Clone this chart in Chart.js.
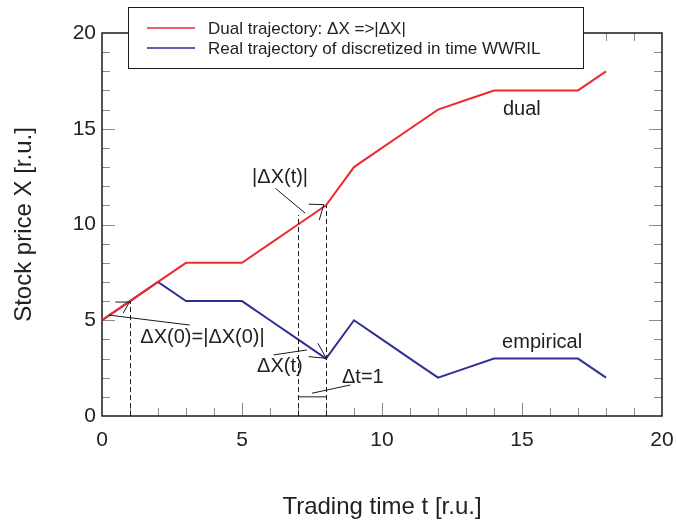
<!DOCTYPE html>
<html>
<head>
<meta charset="utf-8">
<script src="https://cdn.jsdelivr.net/npm/chart.js@4"></script>
<style>
  html, body { margin: 0; padding: 0; background: #fff; }
  #wrap { width: 676px; height: 523px; }
</style>
</head>
<body>
<div id="wrap"><canvas id="chart"></canvas></div>
<script>
// Trajectory samples, one per trading step
const tradingTime    = [0, 1, 2, 3, 4, 5, 6, 7, 8, 9, 10, 11, 12, 13, 14, 15, 16, 17, 18];
const dualPrice      = [5, 6, 7, 8, 8, 8, 9, 10, 11, 13, 14, 15, 16, 16.5, 17, 17, 17, 17, 18];
const empiricalPrice = [5, 6, 7, 6, 6, 6, 5, 4, 3, 5, 4, 3, 2, 2.5, 3, 3, 3, 3, 2];

const seriesLabels = ['Dual trajectory: \u0394X =>|\u0394X|', 'Real trajectory of discretized in time WWRIL'];
const seriesColors = ['#ee2a2e', '#2e3192'];

const xTickValues = [0, 5, 10, 15, 20];
const yTickValues = [0, 5, 10, 15, 20];

// Text notes placed in data units: [text, t, X]
const notes = [
  ['dual', 14.32, 15.72],
  ['empirical', 14.29, 3.54],
  ['|\u0394X(t)|', 5.36, 12.17],
  ['\u0394X(0)=|\u0394X(0)|', 1.37, 3.81],
  ['\u0394X(t)', 5.54, 2.30],
  ['\u0394t=1', 8.57, 1.72]
];

// Dashed guides: [t, fromX, toX]
const guides = [
  [1, 0, 6],
  [7, 0, 10.5],
  [8, 0, 11]
];

// Thin leader strokes and arrow heads, as polylines in data units
const leaders = [
  [[0.24, 5.27], [3.13, 4.75]],
  [[6.19, 11.89], [7.26, 10.59]],
  [[6.13, 3.19], [7.32, 3.45]],
  [[7.50, 1.19], [8.87, 1.62]],
  [[7, 1], [8, 1]],
  [[0.48, 5.95], [0.98, 5.95], [0.76, 5.38]],
  [[7.38, 11.06], [7.92, 11.04], [7.76, 10.23]],
  [[7.71, 3.80], [8.01, 3.01], [7.38, 3.10]]
];

const textColor = '#222';
const fontFamily = '"Liberation Sans", Arial, sans-serif';

function toPoints(ys) {
  return tradingTime.map((t, i) => ({ x: t, y: ys[i] }));
}

// Frame with inward minor/major ticks on all four sides
const framePlugin = {
  id: 'frame',
  beforeDatasetsDraw(chart) {
    const { ctx, chartArea: a, scales: { x, y } } = chart;
    ctx.save();
    ctx.strokeStyle = '#8a8a8a';
    ctx.lineWidth = 1;
    ctx.beginPath();
    for (let v = 1; v < 20; v++) {
      const len = v % 5 === 0 ? 13 : 8;
      const px = Math.round(x.getPixelForValue(v)) + 0.5;
      ctx.moveTo(px, a.bottom); ctx.lineTo(px, a.bottom - len);
      ctx.moveTo(px, a.top); ctx.lineTo(px, a.top + len);
      const py = Math.round(y.getPixelForValue(v)) + 0.5;
      ctx.moveTo(a.left, py); ctx.lineTo(a.left + len, py);
      ctx.moveTo(a.right, py); ctx.lineTo(a.right - len, py);
    }
    ctx.stroke();
    ctx.strokeStyle = '#1a1a1a';
    ctx.lineWidth = 1.5;
    ctx.strokeRect(a.left, a.top, a.right - a.left, a.bottom - a.top);
    ctx.restore();
  }
};

// Guides, leaders, notes and the boxed legend
const notesPlugin = {
  id: 'notes',
  afterDatasetsDraw(chart) {
    const { ctx, scales: { x, y } } = chart;
    ctx.save();
    ctx.strokeStyle = '#1a1a1a';
    ctx.lineWidth = 1;
    ctx.setLineDash([5, 3]);
    guides.forEach(([t, y0, y1]) => {
      const px = Math.round(x.getPixelForValue(t)) + 0.5;
      ctx.beginPath();
      ctx.moveTo(px, y.getPixelForValue(y0));
      ctx.lineTo(px, y.getPixelForValue(y1));
      ctx.stroke();
    });
    ctx.setLineDash([]);
    leaders.forEach(pts => {
      ctx.beginPath();
      pts.forEach(([t, v], i) => {
        const px = x.getPixelForValue(t), py = y.getPixelForValue(v);
        if (i === 0) ctx.moveTo(px, py); else ctx.lineTo(px, py);
      });
      ctx.stroke();
    });
    ctx.fillStyle = textColor;
    ctx.font = '20px ' + fontFamily;
    ctx.textBaseline = 'alphabetic';
    ctx.textAlign = 'left';
    notes.forEach(([txt, t, v]) => {
      ctx.fillText(txt, x.getPixelForValue(t), y.getPixelForValue(v));
    });

    // legend box
    const box = { left: 128.5, top: 7.5, width: 455, height: 61 };
    ctx.fillStyle = '#fff';
    ctx.fillRect(box.left, box.top, box.width, box.height);
    ctx.strokeStyle = '#1a1a1a';
    ctx.lineWidth = 1;
    ctx.strokeRect(box.left, box.top, box.width, box.height);
    ctx.font = '17px ' + fontFamily;
    ctx.textBaseline = 'middle';
    chart.data.datasets.forEach((ds, i) => {
      const rowY = 28 + i * 20;
      ctx.strokeStyle = ds.borderColor;
      ctx.lineWidth = 1.5;
      ctx.beginPath();
      ctx.moveTo(147, rowY);
      ctx.lineTo(195, rowY);
      ctx.stroke();
      ctx.fillStyle = textColor;
      ctx.fillText(ds.label, 208, rowY + 1);
    });
    ctx.restore();
  }
};

new Chart(document.getElementById('chart'), {
  type: 'line',
  data: {
    datasets: [
      { label: seriesLabels[0], data: toPoints(dualPrice), borderColor: seriesColors[0], borderWidth: 2, pointRadius: 0, tension: 0, fill: false },
      { label: seriesLabels[1], data: toPoints(empiricalPrice), borderColor: seriesColors[1], borderWidth: 2, pointRadius: 0, tension: 0, fill: false }
    ]
  },
  options: {
    responsive: true,
    maintainAspectRatio: false,
    animation: false,
    layout: { padding: { top: 33, right: 14, left: 0, bottom: 0 } },
    plugins: {
      legend: { display: false },
      tooltip: { enabled: false }
    },
    scales: {
      x: {
        type: 'linear',
        min: 0,
        max: 20,
        grid: { display: false, drawTicks: false },
        border: { display: false },
        afterBuildTicks: s => { s.ticks = xTickValues.map(v => ({ value: v })); },
        afterFit: s => { s.height = 107; s.paddingLeft = 0; s.paddingRight = 0; },
        ticks: { color: textColor, font: { family: fontFamily, size: 21 }, padding: 12, maxRotation: 0 },
        title: { display: true, text: 'Trading time t [r.u.]', color: textColor, font: { family: fontFamily, size: 24 }, padding: { top: 0, bottom: 1 } }
      },
      y: {
        type: 'linear',
        min: 0,
        max: 20,
        grid: { display: false, drawTicks: false },
        border: { display: false },
        afterBuildTicks: s => { s.ticks = yTickValues.map(v => ({ value: v })); },
        afterFit: s => { s.width = 102; s.paddingTop = 0; s.paddingBottom = 0; },
        ticks: { color: textColor, font: { family: fontFamily, size: 21 }, padding: 6 },
        title: { display: true, text: 'Stock price X [r.u.]', color: textColor, font: { family: fontFamily, size: 24 }, padding: { top: 10, bottom: 0 } }
      }
    }
  },
  plugins: [framePlugin, notesPlugin]
});
</script>
</body>
</html>
